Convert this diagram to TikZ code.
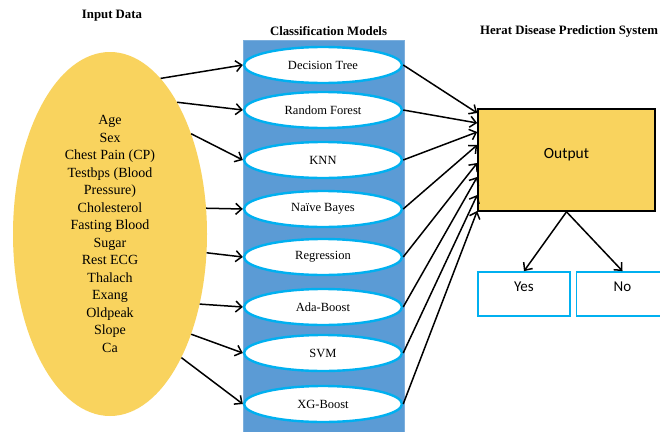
\documentclass[tikz,border=0pt]{standalone}
\usepackage{fontspec}
\setmainfont{Liberation Serif}
\newfontfamily\carl{Carlito}
\usetikzlibrary{arrows.meta,shapes.geometric}
\definecolor{ylw}{HTML}{F9D35E}
\definecolor{panelblue}{HTML}{5B9BD5}
\definecolor{cyanb}{HTML}{00B0F0}
\begin{document}
\begin{tikzpicture}[x=1pt,y=-1pt,
  arr/.style={-{Straight Barb[length=6pt,width=11pt]}, line width=1.5pt, black},
  model/.style={ellipse, draw=cyanb, line width=2.4pt, fill=white,
    minimum width=158pt, minimum height=36pt, inner sep=0pt,
    font=\fontsize{12.5}{14}\selectfont},
  ttl/.style={font=\bfseries\fontsize{12.8}{15}\selectfont, inner sep=0pt},
  ans/.style={draw=cyanb, line width=1.8pt, fill=white, minimum width=92pt,
    minimum height=44pt, inner sep=0pt, text height=5pt, text depth=11pt,
    font=\carl\fontsize{15}{17}\selectfont}]
\useasboundingbox (0,0) rectangle (660,431);
\fill[white] (0,0) rectangle (660,431);
\clip (0,0) rectangle (660,431);

% titles
\node[ttl] (t1) at (112,16) {Input Data};
\node[ttl] (t2) at (328.5,31) {Classification Models};
\node[ttl] (t3) at (569,31) {Herat Disease Prediction System};

% input ellipse
\node[ellipse, fill=ylw, minimum width=194pt, minimum height=364pt, inner sep=0pt,
  align=center, font=\fontsize{14}{17.5}\selectfont] (yel) at (110,234)
  {Age\\Sex\\Chest Pain (CP)\\Testbps (Blood\\Pressure)\\Cholesterol\\Fasting Blood\\Sugar\\Rest ECG\\Thalach\\Exang\\Oldpeak\\Slope\\Ca};

% panel
\node[rectangle, fill=panelblue, draw=panelblue!80!white, line width=0.6pt,
  minimum width=161pt, minimum height=400pt, inner sep=0pt] (panel) at (323.5,240) {};

% models
\node[model] (m1) at (323,65) {Decision Tree};
\node[model] (m2) at (323,110) {Random Forest};
\node[model] (m3) at (323,160) {KNN};
\node[model] (m4) at (323,209) {Naïve Bayes};
\node[model] (m5) at (323,257) {Regression};
\node[model] (m6) at (323,307) {Ada-Boost};
\node[model] (m7) at (323,353) {SVM};
\node[model] (m8) at (323,404) {XG-Boost};

% output
\node[rectangle, draw=black, line width=1.6pt, fill=ylw, minimum width=177pt,
  minimum height=102pt, inner sep=0pt, text height=8pt, text depth=11pt,
  font=\carl\fontsize{15.5}{18}\selectfont] (out) at (566.5,160) {Output};

% answers
\node[ans] (yes) at (524,294) {Yes};
\node[ans] (no) at (622.5,294) {No};

% arrows input -> models
\draw[arr] (yel.72) -- (m1.west);
\draw[arr] (yel.63.6) -- (m2.west);
\draw[arr] (yel.51) -- (m3.west);
\draw[arr] (yel.15) -- (m4.west);
\draw[arr] (yel.-11) -- (m5.west);
\draw[arr] (yel.-38) -- (m6.west);
\draw[arr] (yel.-51.5) -- (m7.west);
\draw[arr] (yel.-60.6) -- (m8.west);

% arrows models -> output
\draw[arr] (m1.east) -- ([yshift=47pt]out.west);
\draw[arr] (m2.east) -- ([yshift=37pt]out.west);
\draw[arr] (m3.east) -- ([yshift=28pt]out.west);
\draw[arr] (m4.east) -- ([yshift=15pt]out.west);
\draw[arr] (m5.east) -- ([yshift=-3pt]out.west);
\draw[arr] (m6.east) -- ([yshift=-17pt]out.west);
\draw[arr] (m7.east) -- ([yshift=-35pt]out.west);
\draw[arr] (m8.east) -- ([yshift=-51pt]out.west);

% output -> answers
\draw[arr] (out.south) -- (yes.north);
\draw[arr] (out.south) -- (no.north);
\end{tikzpicture}
\end{document}
